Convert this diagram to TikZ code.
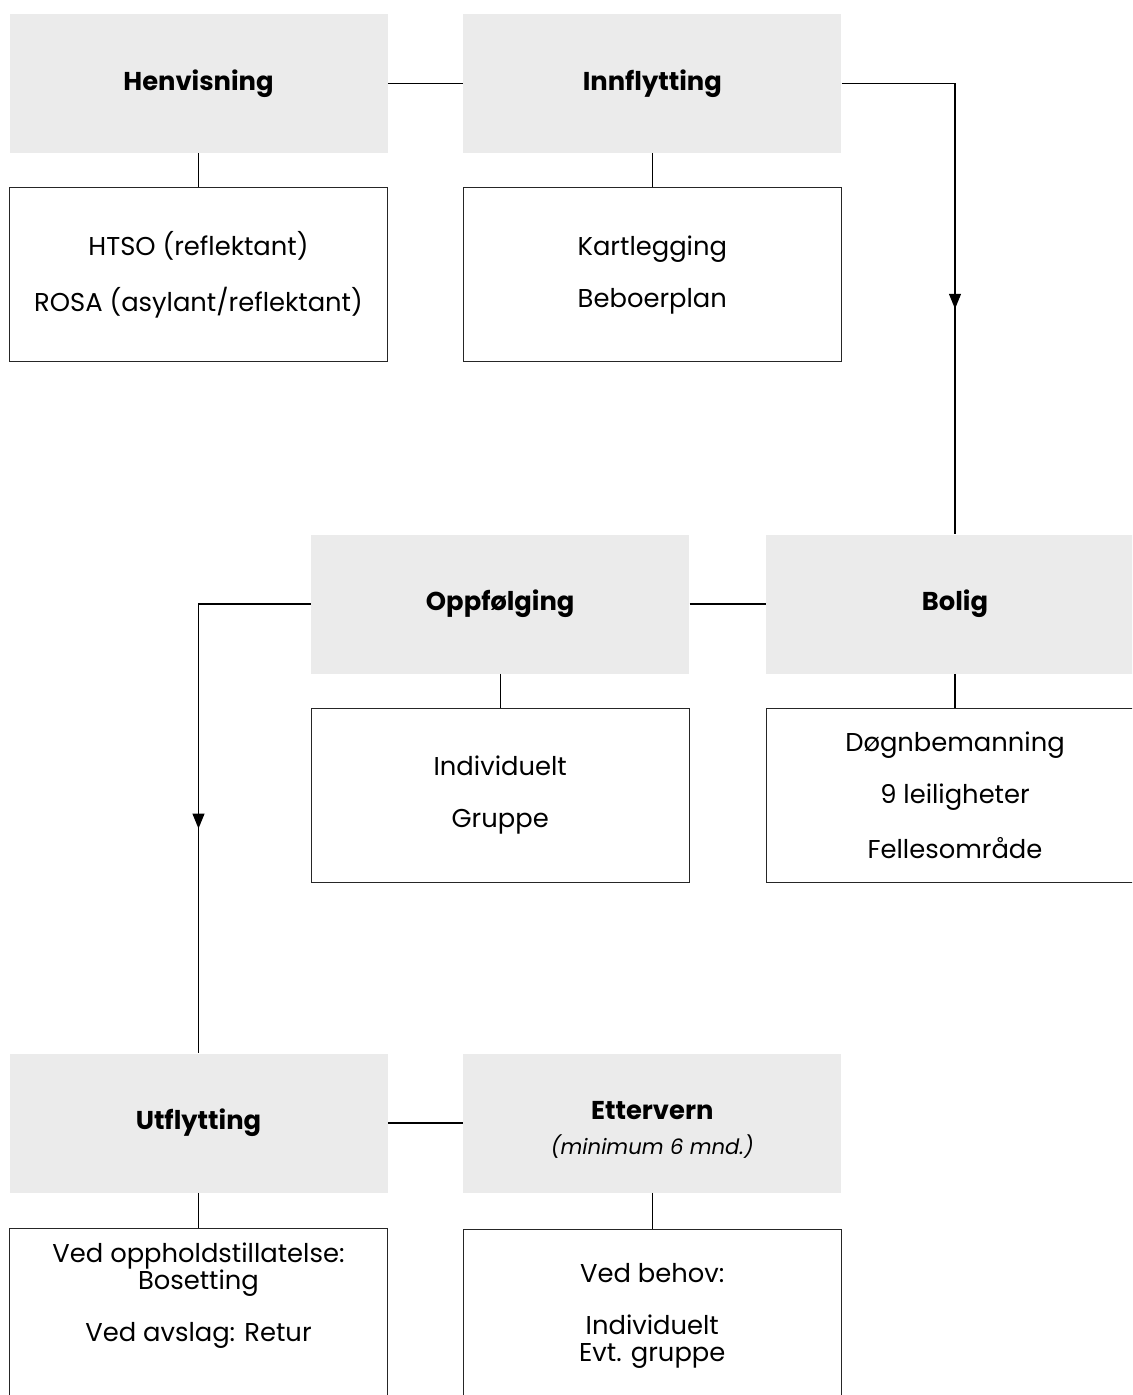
\documentclass[tikz,border=0pt]{standalone}
\usepackage{fontspec}
\setmainfont{Poppins}
\usetikzlibrary{positioning,arrows.meta}
\definecolor{headgray}{RGB}{235,235,235}

\begin{document}
\begin{tikzpicture}[node distance=17pt and 37.5pt,>={Triangle[length=7.5pt,width=6pt]},
  font=\fontsize{12.9}{13.5}\selectfont]
  \tikzstyle{head}=[rectangle,fill=headgray,minimum width=189pt,minimum height=69.5pt,inner sep=0pt,align=center,font=\fontsize{12.9}{13.5}\selectfont\bfseries]
  \tikzstyle{body}=[rectangle,draw=black!85,line width=0.5pt,minimum width=189pt,minimum height=87pt,inner sep=0pt,align=center]
  \tikzstyle{link}=[line width=0.6pt]

  \clip (0,0) rectangle (566pt,-697.5pt);

  % top row
  \node [head] (henv) at (99.25pt,-41.75pt) {Henvisning};
  \node [body] (henvbox) [below=of henv] {HTSO (reflektant)\\[12.5pt]ROSA (asylant/reflektant)};
  \node [head] (innfl) [right=of henv] {Innflytting};
  \node [body] (innflbox) [below=of innfl] {Kartlegging\\[12.5pt]Beboerplan};

  % middle row
  \node [head] (bolig) at (477.5pt,-302pt) {Bolig};
  \node [body] (boligbox) [below=of bolig] {Døgnbemanning\\[12.5pt]9 leiligheter\\[12.5pt]Fellesområde};
  \node [head] (oppf) [left=38pt of bolig] {Oppfølging};
  \node [body] (oppfbox) [below=of oppf] {Individuelt\\[12.5pt]Gruppe};

  % bottom row
  \node [head] (utfl) at (99.25pt,-561.5pt) {Utflytting};
  \node [body,inner ysep=7pt,text depth=60pt] (utflbox) [below=17.5pt of utfl] {Ved oppholdstillatelse:\\Bosetting\\[12.5pt]Ved avslag: Retur};
  \node [head] (ett) [right=of utfl] {\rule{0pt}{16pt}Ettervern\\[4pt]{\normalfont\itshape\fontsize{10.6}{13.5}\selectfont (minimum 6 mnd.)}};
  \node [body,inner ysep=17pt,text depth=60pt] (ettbox) [below=18pt of ett] {Ved behov:\\[12.5pt]Individuelt\\Evt. gruppe};

  \draw [link] (henv) -- (henvbox);
  \draw [link] (innfl) -- (innflbox);
  \draw [link] (bolig) -- (boligbox);
  \draw [link] (oppf) -- (oppfbox);
  \draw [link] (utfl) -- (utflbox);
  \draw [link] (ett) -- (ettbox);

  \draw [link] (henv) -- (innfl);
  \draw [link] (innfl.east) -| coordinate[pos=0.75] (m1) (bolig.north);
  \draw [link,->] (innfl.east -| bolig.north) -- (m1);
  \draw [link] (oppf) -- (bolig);
  \draw [link] (oppf.west) -| coordinate[pos=0.75] (m2) (utfl.north);
  \draw [link,->] (oppf.west -| utfl.north) -- (m2);
  \draw [link] (utfl) -- (ett);
\end{tikzpicture}
\end{document}
